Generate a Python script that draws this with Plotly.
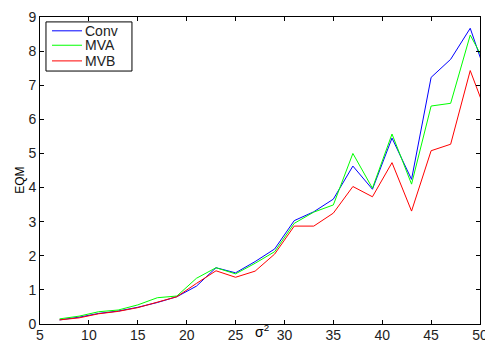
import plotly.graph_objects as go

# noise variance (sigma^2) sampled on odd values
sigma2 = [7, 9, 11, 13, 15, 17, 19, 21, 23, 25, 27, 29, 31, 33, 35, 37, 39, 41, 43, 45, 47, 49, 51]

# mean squared error for each estimator
eqm_conv = [0.12, 0.20, 0.31, 0.38, 0.49, 0.63, 0.80, 1.11, 1.65, 1.50, 1.83, 2.20, 3.03, 3.29,
            3.66, 4.63, 3.95, 5.45, 4.24, 7.23, 7.76, 8.67, 7.00]
eqm_mva = [0.15, 0.23, 0.36, 0.41, 0.56, 0.77, 0.82, 1.34, 1.65, 1.47, 1.78, 2.12, 2.95, 3.28,
           3.49, 5.00, 3.98, 5.57, 4.10, 6.39, 6.47, 8.47, 7.41]
eqm_mvb = [0.12, 0.18, 0.30, 0.37, 0.48, 0.63, 0.80, 1.19, 1.56, 1.37, 1.55, 2.05, 2.87, 2.87,
           3.25, 4.03, 3.73, 4.73, 3.31, 5.08, 5.27, 7.43, 5.91]

series_names = ["Conv", "MVA", "MVB"]
series_colors = ["#0000ff", "#00ff00", "#ff0000"]

x_ticks = [5, 10, 15, 20, 25, 30, 35, 40, 45, 50]
y_ticks = [0, 1, 2, 3, 4, 5, 6, 7, 8, 9]

fig = go.Figure()
for name, vals, col in zip(series_names, [eqm_conv, eqm_mva, eqm_mvb], series_colors):
    fig.add_trace(go.Scatter(x=sigma2, y=vals, mode="lines", name=name, showlegend=False,
                             line=dict(color=col, width=1)))

axis_common = dict(showgrid=False, zeroline=False, showline=True, linecolor="black",
                   linewidth=1, mirror="ticks", ticks="inside", ticklen=4,
                   tickcolor="black", tickfont=dict(size=14, color="#222"),
                   ticklabeloverflow="allow", automargin=False)

# compact boxed legend in the upper-left corner of the axes
legend_shapes = [dict(type="rect", xref="paper", yref="paper", x0=0.0136, x1=0.209,
                      y0=0.824, y1=0.984, line=dict(color="black", width=1),
                      fillcolor="white", layer="above")]
legend_notes = []
row_y = [0.955, 0.908, 0.857]
for name, col, ry in zip(series_names, series_colors, row_y):
    legend_shapes.append(dict(type="line", xref="paper", yref="paper", x0=0.0273, x1=0.0955,
                              y0=ry, y1=ry, line=dict(color=col, width=1), layer="above"))
    legend_notes.append(dict(text=name, xref="paper", yref="paper", x=0.100, y=ry,
                             xanchor="left", yanchor="middle", showarrow=False,
                             borderpad=0, font=dict(size=14, color="#222")))

fig.update_layout(
    width=485, height=341,
    margin=dict(l=40, r=5, t=17, b=17),
    paper_bgcolor="white", plot_bgcolor="white",
    font=dict(family="Liberation Sans, Arial, sans-serif", color="black"),
    xaxis=dict(range=[5, 50], tickvals=x_ticks, ticklabelstandoff=-2, **axis_common),
    yaxis=dict(range=[0, 9], tickvals=y_ticks, **axis_common),
    showlegend=False,
    shapes=legend_shapes,
    annotations=legend_notes + [
        dict(text="σ<sup>2</sup>", xref="paper", yref="paper", x=0.505, y=-0.058,
             xanchor="center", yanchor="bottom", showarrow=False, font=dict(size=14)),
        dict(text="EQM", xref="paper", yref="paper", x=-0.046, y=0.469,
             xanchor="center", yanchor="middle", textangle=-90, showarrow=False,
             font=dict(size=12)),
    ],
)

fig.write_html("out.html")
